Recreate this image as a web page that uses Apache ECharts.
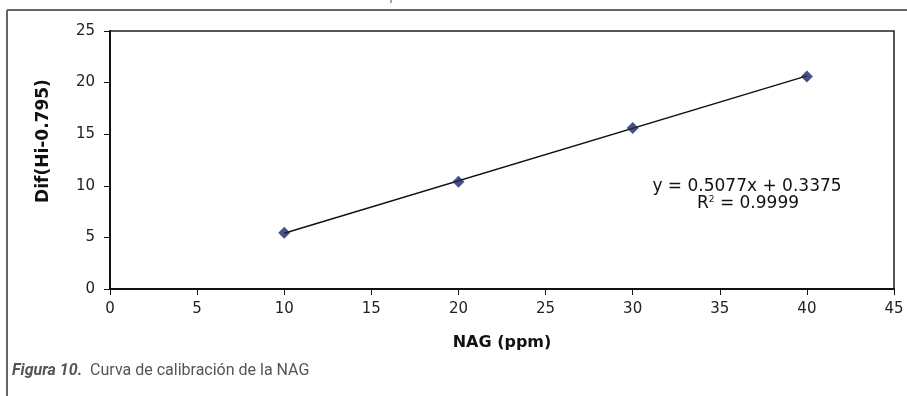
<!DOCTYPE html>
<html>
<head>
<meta charset="utf-8">
<script src="https://cdn.jsdelivr.net/npm/echarts@6/dist/echarts.min.js"></script>
<style>
html,body{margin:0;padding:0;background:#fff;}
#chart{width:907px;height:396px;}
</style>
</head>
<body>
<div id="chart"></div>
<script>
// Data
const nagPpm = [10, 20, 30, 40];
const difValues = [5.45, 10.4, 15.6, 20.6];
const trendX = [10, 40];
const trendY = [5.41, 20.65];
const xTicks = [0, 5, 10, 15, 20, 25, 30, 35, 40, 45];
const yTicks = [0, 5, 10, 15, 20, 25];
const equationLines = ['y = 0.5077x + 0.3375', 'R{sup|2} = 0.9999'];
const xTitle = 'NAG (ppm)';
const yTitle = 'Dif(Hi-0.795)';
const captionBold = 'Figura 10.';
const captionText = 'Curva de calibración de la NAG';

const chart = echarts.init(document.getElementById('chart'), null, {renderer: 'canvas'});
const tickFont = 'DejaVu Sans';
chart.setOption({
  animation: false,
  backgroundColor: '#ffffff',
  grid: {left: 110, right: 13, top: 31, bottom: 107, show: true, borderColor: '#222', borderWidth: 1.5, backgroundColor: 'transparent'},
  xAxis: {
    type: 'value', min: xTicks[0], max: xTicks[xTicks.length - 1], interval: 5,
    name: xTitle, nameLocation: 'middle', nameGap: 46,
    nameTextStyle: {fontFamily: tickFont, fontWeight: 'bold', fontSize: 16, color: '#111'},
    axisLine: {onZero: false, lineStyle: {color: '#111', width: 2}},
    axisTick: {show: true, inside: false, length: 6, lineStyle: {color: '#111', width: 1}},
    axisLabel: {fontFamily: tickFont, fontSize: 15, color: '#222', margin: 13},
    splitLine: {show: false}
  },
  yAxis: {
    type: 'value', min: yTicks[0], max: yTicks[yTicks.length - 1], interval: 5,
    name: yTitle, nameLocation: 'middle', nameGap: 58, nameRotate: 90,
    nameTextStyle: {fontFamily: tickFont, fontWeight: 'bold', fontSize: 17, color: '#111', padding: [0, 0, 0, 38]},
    axisLine: {onZero: false, lineStyle: {color: '#111', width: 2}},
    axisTick: {show: true, inside: false, length: 6, lineStyle: {color: '#111', width: 1}},
    axisLabel: {fontFamily: tickFont, fontSize: 15, color: '#222', margin: 15},
    splitLine: {show: false}
  },
  series: [
    {
      type: 'line', data: trendX.map((x, i) => [x, trendY[i]]),
      showSymbol: false, lineStyle: {color: '#111', width: 1.5}, z: 2, silent: true
    },
    {
      type: 'scatter', data: nagPpm.map((x, i) => [x, difValues[i]]),
      symbol: 'diamond', symbolSize: [12, 12],
      itemStyle: {color: '#1c2664'}, z: 3
    }
  ],
  graphic: [
    {type: 'line', shape: {x1: 7, y1: 10, x2: 907, y2: 10}, style: {stroke: '#666', lineWidth: 2}},
    {type: 'line', shape: {x1: 7, y1: 10, x2: 7, y2: 396}, style: {stroke: '#666', lineWidth: 2}},
    {type: 'line', shape: {x1: 391, y1: 0, x2: 391, y2: 3}, style: {stroke: '#888', lineWidth: 1.5}},
    {type: 'text', x: 747, y: 178, style: {
      text: equationLines[0], font: '17px "DejaVu Sans"', fill: '#111', align: 'center'}},
    {type: 'text', x: 748, y: 195, style: {
      text: equationLines[1], font: '17px "DejaVu Sans"', fill: '#111', align: 'center',
      rich: {sup: {font: '9px "DejaVu Sans"', verticalAlign: 'top', padding: [0, 0, 6, 0]}}}},
    {type: 'text', left: 12, top: 363, style: {
      text: '{b|' + captionBold + '}  {n|' + captionText + '}',
      font: '16px Roboto', fill: '#555',
      rich: {
        b: {font: 'italic bold 16px Roboto', fill: '#555'},
        n: {font: '16px Roboto', fill: '#555'}
      }}}
  ]
});
</script>
</body>
</html>
